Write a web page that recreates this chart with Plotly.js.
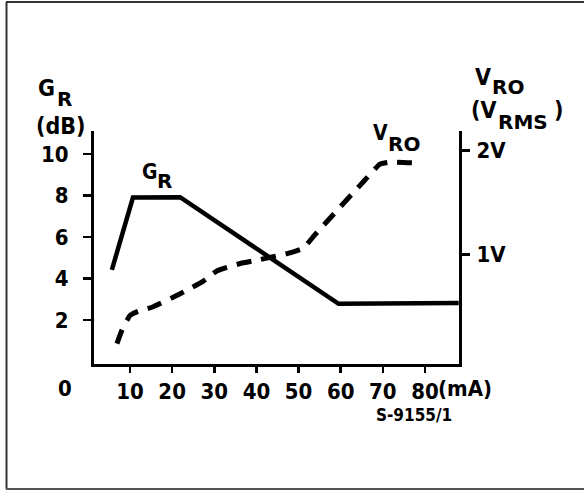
<!DOCTYPE html>
<html>
<head>
<meta charset="utf-8">
<script src="https://cdn.plot.ly/plotly-3.0.1.min.js"></script>
<style>
html,body{margin:0;padding:0;background:#fff;}
#chart{width:584px;height:491px;}
</style>
</head>
<body>
<div id="chart"></div>
<script>
// Data
const currentGR = [5.7, 10.7, 21.9, 59.5, 88];
const gainGR = [4.42, 7.9, 7.92, 2.78, 2.82];

const currentVRO = [6.9, 8.1, 10, 11.9, 15.2, 21.9, 27.3, 30.6, 36, 40.9, 47.5, 51.1, 53.9, 65.8, 69.3, 71.7, 78.3];
const voltageVRO = [0.14, 0.27, 0.41, 0.45, 0.49, 0.62, 0.74, 0.84, 0.91, 0.95, 1.01, 1.06, 1.19, 1.72, 1.87, 1.89, 1.88];

const xTickVals = [10, 20, 30, 40, 50, 60, 70, 80];
const xTickText = ['10', '20', '30', '40', '50', '60', '70', '80'];
const yTickVals = [2, 4, 6, 8, 10];
const yTickText = ['2', '4', '6', '8', '10'];
const y2TickVals = [1, 2];
const y2TickText = ['1V', '2V'];

const F = 'DejaVu Sans Condensed, DejaVu Sans, sans-serif';
const FW = 'DejaVu Sans, sans-serif';
const font = {family: F, size: 22, color: '#000', weight: 'bold'};
const big = {family: F, size: 23, color: '#000', weight: 'bold'};
const sub = {family: FW, size: 20, color: '#000', weight: 'bold'};
const mid = {family: F, size: 21, color: '#000', weight: 'bold'};

const W = 584, H = 491, L = 94, R = 125, T = 131, B = 127;
const pw = W - L - R, ph = H - T - B;
const px = v => (v - L) / pw;
const py = v => (H - B - v) / ph;

function lab(text, x, y, f, anchor) {
  return {text: text, xref: 'paper', yref: 'paper', x: px(x), y: py(y), showarrow: false,
    font: f, xanchor: anchor || 'left', yanchor: 'middle', borderpad: 0};
}

const traces = [
  {x: currentGR, y: gainGR, type: 'scatter', mode: 'lines',
   line: {color: '#000', width: 4.5}, hoverinfo: 'skip', showlegend: false},
  {x: currentVRO, y: voltageVRO, type: 'scatter', mode: 'lines', yaxis: 'y2',
   line: {color: '#000', width: 5, dash: '15px,10px', shape: 'spline', smoothing: 0.4},
   hoverinfo: 'skip', showlegend: false}
];

const layout = {
  width: W, height: H,
  margin: {l: L, r: R, t: T, b: B, pad: 0},
  paper_bgcolor: '#fff', plot_bgcolor: '#fff',
  showlegend: false,
  font: font,
  xaxis: {range: [1.46, 88.07], showgrid: false, zeroline: false,
    showline: true, linecolor: '#000', linewidth: 3,
    ticks: 'outside', ticklen: 6, tickwidth: 2.5, tickcolor: '#000',
    tickvals: xTickVals, ticktext: xTickText, tickfont: font, ticklabelstandoff: 0},
  yaxis: {range: [-0.12, 11.11], showgrid: false, zeroline: false,
    showline: true, linecolor: '#000', linewidth: 3,
    ticks: 'outside', ticklen: 8, tickwidth: 2.5, tickcolor: '#000',
    tickvals: yTickVals, ticktext: yTickText, tickfont: font, ticklabelstandoff: 10},
  yaxis2: {range: [-0.057, 2.19], overlaying: 'y', side: 'right', showgrid: false, zeroline: false,
    showline: true, linecolor: '#000', linewidth: 3,
    ticks: 'outside', ticklen: 8, tickwidth: 2.5, tickcolor: '#000',
    tickvals: y2TickVals, ticktext: y2TickText, tickfont: font, ticklabelstandoff: 2},
  shapes: [
    {type: 'line', xref: 'paper', yref: 'paper', x0: px(6), x1: px(584), y0: py(2), y1: py(2), line: {color: '#333', width: 2}},
    {type: 'line', xref: 'paper', yref: 'paper', x0: px(6.5), x1: px(6.5), y0: py(2), y1: py(489), line: {color: '#333', width: 2}},
    {type: 'line', xref: 'paper', yref: 'paper', x0: px(6), x1: px(584), y0: py(489), y1: py(489), line: {color: '#555', width: 2}}
  ],
  annotations: [
    // left axis title
    lab('G', 37, 88, big), lab('R', 56, 99, sub),
    lab('(dB)', 61, 126, big, 'center'),
    // right axis title
    lab('V', 474, 77, big), lab('RO', 491, 87, sub),
    lab('(V', 470, 110, big), lab('RMS', 497, 122, sub), lab(')', 553, 110, big),
    // curve labels
    lab('G', 141, 172, mid), lab('R', 156, 181, sub),
    lab('V', 372, 133, mid), lab('RO', 387, 144, sub),
    // extra texts
    lab('0', 65, 388, font, 'center'),
    lab('(mA)', 437, 388, font),
    lab('S-9155/1', 414, 415, {family: F, size: 17, color: '#000', weight: 'bold'}, 'center')
  ]
};

Plotly.newPlot('chart', traces, layout, {staticPlot: true, displayModeBar: false});
</script>
</body>
</html>
